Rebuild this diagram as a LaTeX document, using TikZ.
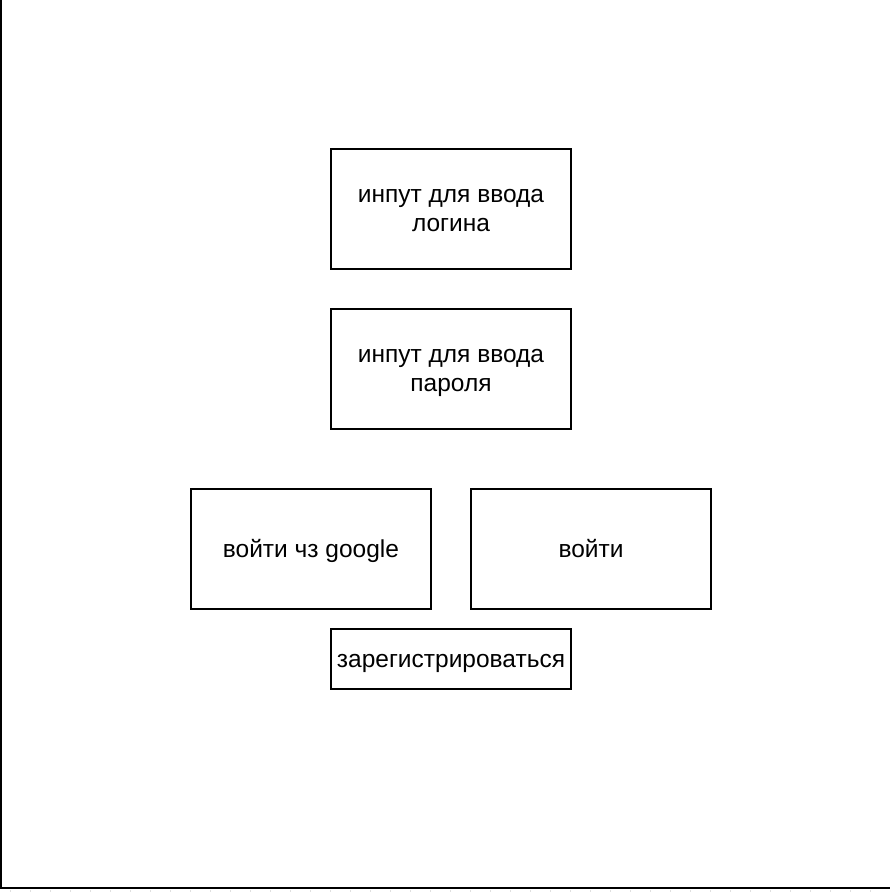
\documentclass[tikz,border=0pt]{standalone}
\usepackage{fontspec}
\setmainfont{Liberation Sans}
\usepackage{tikz}
\usetikzlibrary{positioning}

\begin{document}
\begin{tikzpicture}[x=1pt, y=-1pt,
  feld/.style={draw, line width=2pt, rectangle, minimum width=240pt, minimum height=120pt,
    align=center, inner sep=0pt, text height=17pt, text depth=1pt,
    font=\fontsize{24.5}{29.5}\selectfont},
  zweizeilig/.style={feld, text height=46.5pt},
  knopf/.style={feld, minimum height=60pt}] % Skalierung: 1px = 1pt

\useasboundingbox (0,0) rectangle (890,892);

% Rahmen links und unten
\draw[line width=2.5pt] (1,0) -- (1,888) -- (890,888);
\foreach \x in {10,30,...,890} {
  \draw[black!12, line width=1pt] (\x,890) -- (\x,892); % Rasterstriche
}

% Eingabefelder
\node[zweizeilig] (login) at (451,209) {инпут для ввода\\логина};
\node[zweizeilig] (passwort) at (451,369) {инпут для ввода\\пароля};

% Knoepfe
\node[feld] (google) at (311,549) {войти чз google};
\node[feld] (anmelden) at (591,549) {войти};
\node[knopf] (registrieren) at (451,659) {зарегистрироваться};

\end{tikzpicture}
\end{document}
